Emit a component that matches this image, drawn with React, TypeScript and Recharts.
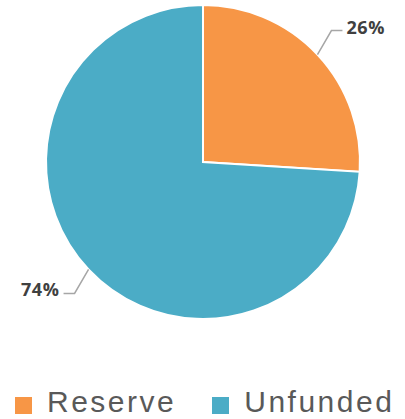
import React from 'react';
import { PieChart, Pie, Cell } from 'recharts';

const categories = ['Reserve', 'Unfunded'];
const values = [26, 74];
const colors = ['#F79646', '#4BACC6'];

const chartData = categories.map((name, i) => ({ name, value: values[i] }));

const RADIAN = Math.PI / 180;

const renderLabel = (props: any) => {
  const { cx, cy, midAngle, outerRadius, percent } = props;
  const cos = Math.cos(-midAngle * RADIAN);
  const sin = Math.sin(-midAngle * RADIAN);
  const sx = cx + outerRadius * cos;
  const sy = cy + outerRadius * sin;
  const dirX = cos >= 0 ? 1 : -1;
  const dirY = sin >= 0 ? 1 : -1;
  const mx = sx + dirX * 14;
  const my = sy + dirY * 24;
  const ex = mx + dirX * 11;
  return (
    <g>
      <path d={`M${sx},${sy}L${mx},${my}L${ex},${my}`} stroke="#a6a6a6" strokeWidth={1.5} fill="none" />
      <text
        x={ex + dirX * 4}
        y={my - 4}
        textAnchor={dirX > 0 ? 'start' : 'end'}
        dominantBaseline="central"
        fill="#404040"
        fontSize={18}
        fontWeight="bold"
        letterSpacing={0.6}
        fontFamily="'Open Sans', sans-serif"
      >
        {`${Math.round(percent * 100)}%`}
      </text>
    </g>
  );
};

// legend drawn as plain html below the pie
const ChartLegend = () => (
  <div
    style={{
      position: 'absolute',
      left: 0,
      top: 385,
      width: 405,
      display: 'flex',
      alignItems: 'flex-start',
      fontFamily: "'Liberation Sans', sans-serif",
      fontSize: 30,
      lineHeight: 'normal',
      letterSpacing: 2.5,
      color: '#595959',
    }}
  >
    {chartData.map((d, i) => (
      <div key={d.name} style={{ display: 'flex', alignItems: 'flex-start', marginLeft: i === 0 ? 15 : 36 }}>
        <span style={{ width: 17, height: 17, background: colors[i], display: 'inline-block', marginRight: 15, marginTop: 12 }} />
        <span>{d.name}</span>
      </div>
    ))}
  </div>
);

export default function App() {
  return (
    <div style={{ position: 'absolute', left: 0, top: 0, width: 405, height: 419, background: '#fff', overflow: 'hidden' }}>
      <PieChart width={405} height={380} margin={{ top: 0, right: 0, bottom: 0, left: 0 }}>
        <Pie
          data={chartData}
          dataKey="value"
          cx={203}
          cy={162}
          outerRadius={157}
          startAngle={90}
          endAngle={-270}
          stroke="#fff"
          strokeWidth={2}
          labelLine={false}
          label={renderLabel}
          isAnimationActive={false}
        >
          {chartData.map((entry, index) => (
            <Cell key={`cell-${index}`} fill={colors[index]} />
          ))}
        </Pie>
      </PieChart>
      <ChartLegend />
    </div>
  );
}
